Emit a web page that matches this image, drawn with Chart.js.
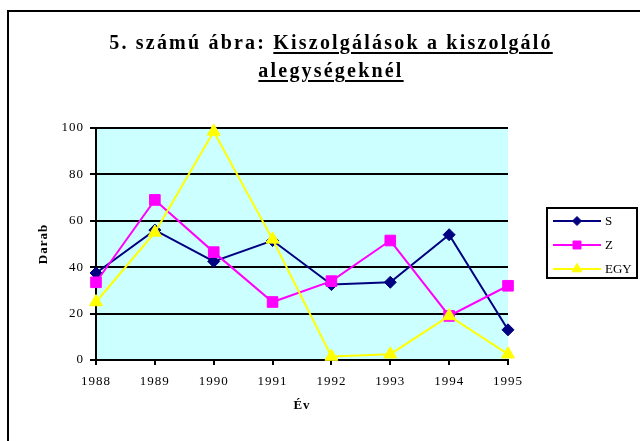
<!DOCTYPE html>
<html>
<head>
<meta charset="utf-8">
<script src="https://cdn.jsdelivr.net/npm/chart.js@4"></script>
<style>
  body { margin: 0; background: #fff; overflow: hidden; }
  #wrap { position: relative; width: 640px; height: 441px; overflow: hidden; }
  #frame { position: absolute; left: 7px; top: 10px; width: 700px; height: 500px;
           border-left: 2px solid #000; border-top: 2px solid #000; }
  #title { position: absolute; left: 0; top: 28px; width: 662px; text-align: center;
           font: bold 20px 'Liberation Serif', 'Times New Roman', serif; letter-spacing: 2.2px;
           line-height: 28px; color: #000; }
  #title u { text-decoration-thickness: 2px; text-underline-offset: 3px; }
  canvas { position: absolute; left: 0; top: 0; }
</style>
</head>
<body>
<div id="wrap">
  <div id="frame"></div>
  <canvas id="chart" width="640" height="441"></canvas>
  <div id="title">5. számú ábra: <u>Kiszolgálások a kiszolgáló </u><br><u>alegységeknél</u></div>
</div>
<script>
  // data
  const years = ['1988', '1989', '1990', '1991', '1992', '1993', '1994', '1995'];
  const sValues = [37.5, 56, 42.5, 51.5, 32.5, 33.5, 54, 13];
  const zValues = [33.5, 69, 46.5, 25, 34, 51.5, 19, 32];
  const egyValues = [25, 55, 98.5, 52, 1.5, 2.5, 19, 2.5];
  const yMin = 0, yMax = 100, yStep = 20;

  const serif = "'Liberation Serif', 'Times New Roman', serif";

  // cyan plot background + spaced lettering like the original
  const plotBg = {
    id: 'plotBg',
    beforeDraw(chart) {
      const { ctx, chartArea } = chart;
      ctx.letterSpacing = '1px';
      ctx.save();
      ctx.fillStyle = '#ccffff';
      ctx.fillRect(chartArea.left, chartArea.top, chartArea.right - chartArea.left, chartArea.bottom - chartArea.top);
      ctx.restore();
    }
  };

  // framed legend on the right, line + marker per series
  const boxLegend = {
    id: 'boxLegend',
    afterDraw(chart) {
      const ctx = chart.ctx;
      ctx.save();
      ctx.letterSpacing = '0px';
      ctx.lineWidth = 2;
      ctx.strokeStyle = '#000';
      ctx.strokeRect(547, 208, 90, 70);
      chart.data.datasets.forEach((ds, i) => {
        const y = 221 + i * 24;
        ctx.strokeStyle = ds.borderColor;
        ctx.lineWidth = 2;
        ctx.beginPath();
        ctx.moveTo(553, y);
        ctx.lineTo(601, y);
        ctx.stroke();
        ctx.fillStyle = ds.pointBackgroundColor;
        ctx.strokeStyle = ds.pointBorderColor;
        ctx.lineWidth = 1;
        Chart.helpers.drawPoint(ctx, { pointStyle: ds.pointStyle, radius: ds.pointRadius * 0.75, borderWidth: 1, rotation: 0 }, 577, y);
        ctx.fillStyle = '#000';
        ctx.font = '13px ' + serif;
        ctx.textAlign = 'left';
        ctx.textBaseline = 'middle';
        ctx.fillText(ds.label, 605, y + 1);
      });
      ctx.restore();
    }
  };

  function series(label, data, color, style, radius, order) {
    return {
      label: label,
      data: data,
      borderColor: color,
      backgroundColor: color,
      pointBackgroundColor: color,
      pointBorderColor: color,
      borderWidth: 2,
      pointStyle: style,
      pointRadius: radius,
      pointBorderWidth: 1,
      tension: 0,
      clip: false,
      order: order
    };
  }

  new Chart(document.getElementById('chart'), {
    type: 'line',
    data: {
      labels: years,
      datasets: [
        series('S', sValues, '#000080', 'rectRot', 6, 3),
        series('Z', zValues, '#ff00ff', 'rect', 7.5, 2),
        series('EGY', egyValues, '#ffff00', 'triangle', 7.5, 1)
      ]
    },
    options: {
      responsive: false,
      animation: false,
      layout: { padding: { top: 128, right: 132, bottom: 0, left: 0 } },
      plugins: {
        legend: { display: false },
        tooltip: { enabled: false }
      },
      scales: {
        x: {
          offset: false,
          afterFit(scale) { scale.height = 81; scale.paddingLeft = 0; scale.paddingRight = 0; },
          grid: { display: true, drawOnChartArea: false, drawTicks: true, tickLength: 5, color: '#000', lineWidth: 2 },
          border: { display: true, color: '#000', width: 2 },
          ticks: { color: '#000', font: { family: serif, size: 13 }, padding: 9, maxRotation: 0, autoSkip: false },
          title: { display: true, text: 'Év', color: '#000', font: { family: serif, size: 13, weight: 'bold' }, padding: { top: 0, bottom: 28 } }
        },
        y: {
          min: yMin,
          max: yMax,
          afterFit(scale) { scale.width = 96; scale.paddingTop = 0; scale.paddingBottom = 0; },
          grid: { display: true, drawTicks: true, tickLength: 6, color: '#000', lineWidth: 2 },
          border: { display: true, color: '#000', width: 2 },
          ticks: { stepSize: yStep, color: '#000', font: { family: serif, size: 13 }, padding: 6 },
          title: { display: true, text: 'Darab', color: '#000', font: { family: serif, size: 13, weight: 'bold' }, padding: { top: 36, bottom: 0 } }
        }
      }
    },
    plugins: [plotBg, boxLegend]
  });
</script>
</body>
</html>
